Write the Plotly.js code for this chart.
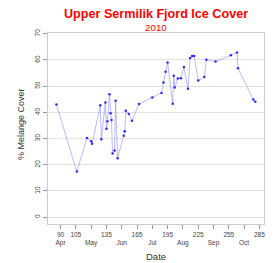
<!DOCTYPE html>
<html>
<head>
<meta charset="utf-8">
<script src="https://cdn.plot.ly/plotly-3.0.1.min.js"></script>
<style>html,body{margin:0;padding:0;background:#fff;}#chart{width:277px;height:263px;}</style>
</head>
<body>
<div id="chart"></div>
<script>
// Day of year of each observation
const days = [86,106,116,120,121,129,130,134,135,136,138,139,140,141,143,144,146,152,153,154,157,160,167,180,189,191,193,195,200,201,202,205,208,211,215,217,219,221,225,231,233,242,257,263,264,279,281];
// % melange cover
const cover = [43.0,17.4,30.2,29.0,28.0,42.7,29.7,43.8,33.8,36.6,46.9,39.7,37.1,24.3,25.5,44.4,22.5,31.1,32.8,40.6,39.4,36.8,43.2,45.7,47.4,51.4,55.5,59.0,43.3,54.0,49.5,52.9,53.0,57.3,49.0,60.8,61.5,61.5,52.2,53.5,60.1,59.4,61.8,62.9,56.8,44.9,44.1];

const xTickVals = [90,105,120,135,150,165,180,195,210,225,240,255,270,285];
const xTickText = ["90<br>Apr","105","<br>May","135","<br>Jun","165","<br>Jul","195","<br>Aug","225","<br>Sep","255","<br>Oct","285"];
const yTickVals = [0,10,20,30,40,50,60,70];

const trace = {
  x: days, y: cover, type: 'scatter', mode: 'lines+markers',
  line: {color: 'rgba(130,130,255,0.55)', width: 1},
  marker: {color: '#2a2aff', size: 2.5},
  hoverinfo: 'skip'
};

const font = 'Liberation Sans, Arial, sans-serif';
const layout = {
  width: 277, height: 263,
  margin: {l: 48, r: 13, t: 32.5, b: 38.5},
  paper_bgcolor: '#fff', plot_bgcolor: '#fff',
  showlegend: false,
  font: {family: font, color: '#333'},
  xaxis: {
    range: [77.75, 289.5],
    tickmode: 'array', tickvals: xTickVals, ticktext: xTickText,
    ticks: 'outside', ticklen: 4, tickcolor: '#999', tickwidth: 1,
    tickfont: {family: font, size: 6.5, color: '#444'},
    showgrid: false, zeroline: false,
    showline: true, linecolor: '#ccc', linewidth: 1, mirror: true
  },
  yaxis: {
    range: [-2.6, 70.3],
    tickmode: 'array', tickvals: yTickVals, ticktext: yTickVals.map(String),
    ticks: 'outside', ticklen: 4, tickcolor: '#999', tickwidth: 1,
    tickangle: -90,
    tickfont: {family: font, size: 6.5, color: '#444'},
    showgrid: true, gridcolor: '#e3e3e3', gridwidth: 1,
    zeroline: false,
    showline: true, linecolor: '#ccc', linewidth: 1, mirror: true
  },
  annotations: [
    {text: '<b>Upper Sermilik Fjord Ice Cover</b>', xref: 'paper', yref: 'paper', x: 0.5, y: 1.1016,
     xanchor: 'center', yanchor: 'middle', showarrow: false, font: {family: font, size: 12.6, color: '#ff0000'}},
    {text: '2010', xref: 'paper', yref: 'paper', x: 0.5, y: 1.0286,
     xanchor: 'center', yanchor: 'middle', showarrow: false, font: {family: font, size: 9.8, color: '#ff0000'}},
    {text: '% Melange Cover', xref: 'paper', yref: 'paper', x: -0.125, y: 0.523, textangle: -90,
     xanchor: 'center', yanchor: 'middle', showarrow: false, font: {family: font, size: 9, color: '#333'}},
    {text: 'Date', xref: 'paper', yref: 'paper', x: 0.5, y: -0.169,
     xanchor: 'center', yanchor: 'middle', showarrow: false, font: {family: font, size: 9.5, color: '#333'}}
  ]
};

Plotly.newPlot('chart', [trace], layout, {displayModeBar: false, staticPlot: true});
</script>
</body>
</html>
